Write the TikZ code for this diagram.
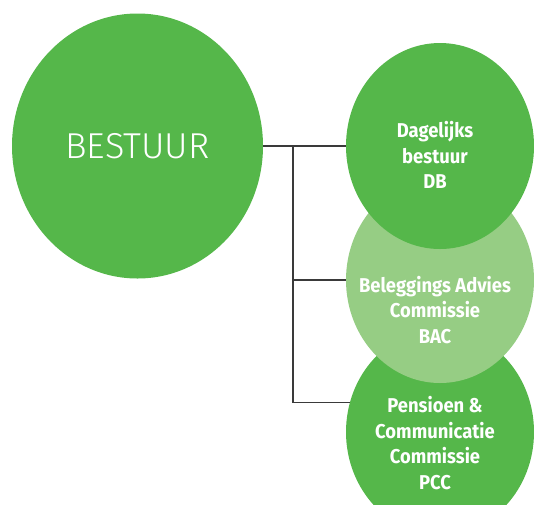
\documentclass[tikz,border=0pt]{standalone}
\usepackage{fontspec}
\setmainfont{Fira Sans}
\newfontfamily\lightfont{Fira Sans Light}
\newfontfamily\capfont{Fira Sans}[FakeStretch=0.92]
\usetikzlibrary{shapes.geometric}
\definecolor{darkgreen}{HTML}{55B74A}
\definecolor{lightgreen}{HTML}{96CD84}
\definecolor{linegray}{HTML}{3A3A3A}
\tikzstyle{bigcircle}=[ellipse,fill=darkgreen,minimum width=251pt,minimum height=265pt,inner sep=0pt]
\tikzstyle{committee}=[ellipse,fill=darkgreen,minimum width=188pt,minimum height=206pt,inner sep=0pt]
\tikzstyle{caption}=[text=white,font=\capfont\bfseries\fontsize{20}{25.5}\selectfont,align=center,xshift=-5pt]
\tikzstyle{link}=[draw=linegray,line width=1.6pt]

\begin{document}
\begin{tikzpicture}[x=1pt,y=-1pt]
  \useasboundingbox (0,0) rectangle (534,504);
  % committees, lowest first so the upper ones overlap
  \node[committee, label={[caption,yshift=-11pt]center:{Pensioen \&\\Communicatie\\Commissie\\PCC}}] (pcc) at (440,432) {};
  \node[committee, fill=lightgreen, label={[caption,yshift=-30pt]center:{Beleggings Advies\\Commissie\\BAC}}] (bac) at (440,280) {};
  \node[committee, label={[caption,yshift=-9pt]center:{Dagelijks\\bestuur\\DB}}] (db) at (440,146) {};
  \node[bigcircle, text=white, font=\lightfont\fontsize{36}{40}\selectfont] (bestuur) at (137.5,146) {BESTUUR};
  \coordinate (split) at (293,146);
  \draw[link] (bestuur.east) -- (db.west);
  \draw[link] (split) |- (pcc.162);
  \draw[link] (split |- bac.west) -- (bac.west);
\end{tikzpicture}
\end{document}
